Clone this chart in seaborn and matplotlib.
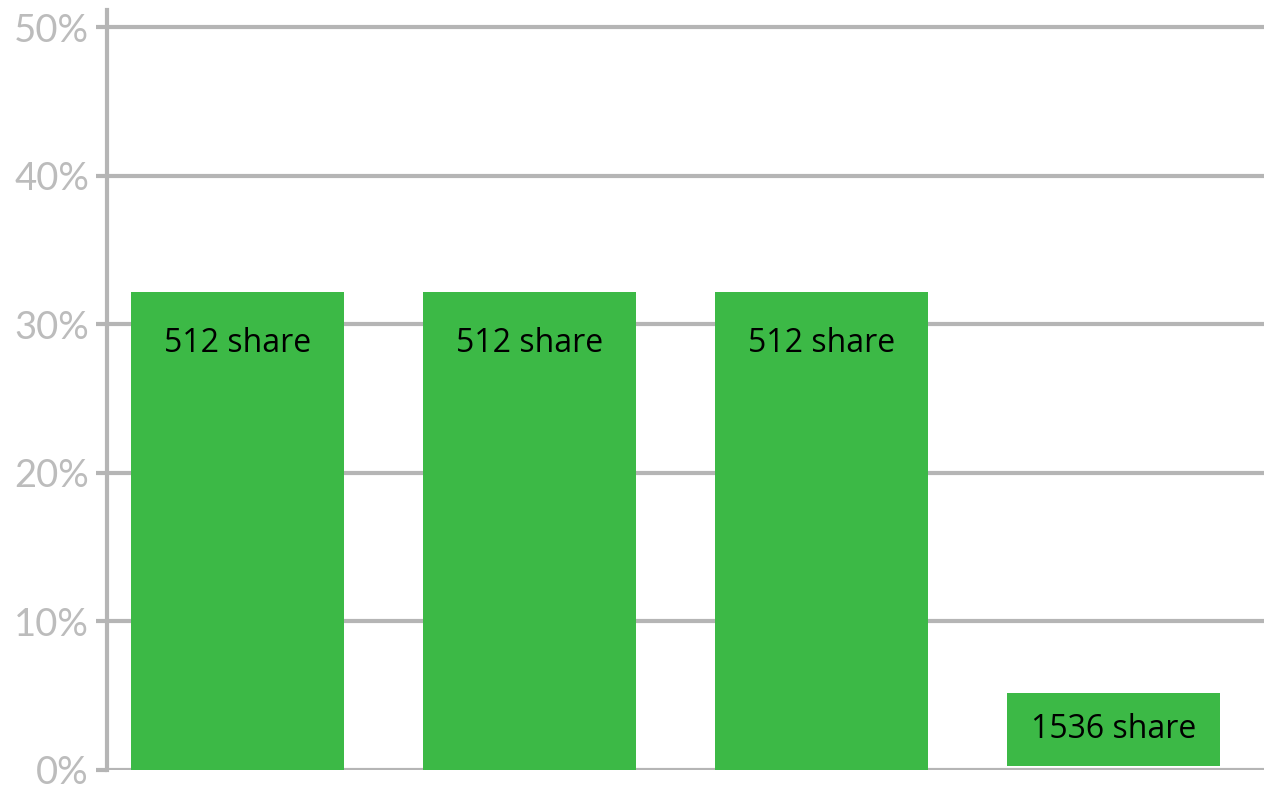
import matplotlib
matplotlib.use("Agg")
import matplotlib.pyplot as plt
import seaborn as sns
import pandas as pd

categories = ["A", "B", "C", "D"]
tops = [32.2, 32.2, 32.2, 5.2]
bottoms = [0.0, 0.0, 0.0, 0.3]
bar_labels = ["512 share", "512 share", "512 share", "1536 share"]
yticks = [0, 10, 20, 30, 40, 50]
ytick_labels = ["0%", "10%", "20%", "30%", "40%", "50%"]

sns.set_theme(style="white")
plt.rcParams['font.family'] = ['Lato', 'DejaVu Sans']

df = pd.DataFrame({"cat": categories, "h": [t - b for t, b in zip(tops, bottoms)]})

fig = plt.figure(figsize=(12.8, 8.06), dpi=100)
ax = fig.add_axes([107/1280, 1 - 770/806, (1264-107)/1280, (770-10)/806])

grid_c = "#b5b5b5"
for t in yticks:
    ax.axhline(t, color=grid_c, lw=3, zorder=0)

sns.barplot(data=df, x="cat", y="h", order=categories, color="#3cb946",
            saturation=1, width=0.73, ax=ax, zorder=2, linewidth=0)

for p, b, t, lab in zip(ax.patches, bottoms, tops, bar_labels):
    p.set_y(b)
    p.set_height(t - b)
    cx = p.get_x() + p.get_width() / 2
    if t - b > 10:
        y = t - 3.5
    else:
        y = (t + b) / 2
    ax.text(cx, y, lab, ha="center", va="center", fontsize=23,
            color="black", family=["Open Sans", "DejaVu Sans"], zorder=3)

ax.set_xlim(-0.447, 3.515)
ax.set_ylim(0, 51.15)
ax.set_yticks(yticks)
ax.set_yticklabels(ytick_labels, fontsize=27.5, color="#bcbcbc", fontweight="normal")
ax.tick_params(axis="y", length=8, width=3, color=grid_c, pad=5, left=True)
ax.set_xticks([])
ax.set_xlabel("")
ax.set_ylabel("")
for s in ["top", "right", "bottom"]:
    ax.spines[s].set_visible(False)
ax.spines["left"].set_color(grid_c)
ax.spines["left"].set_linewidth(3)

fig.savefig("out.png", dpi=100)
